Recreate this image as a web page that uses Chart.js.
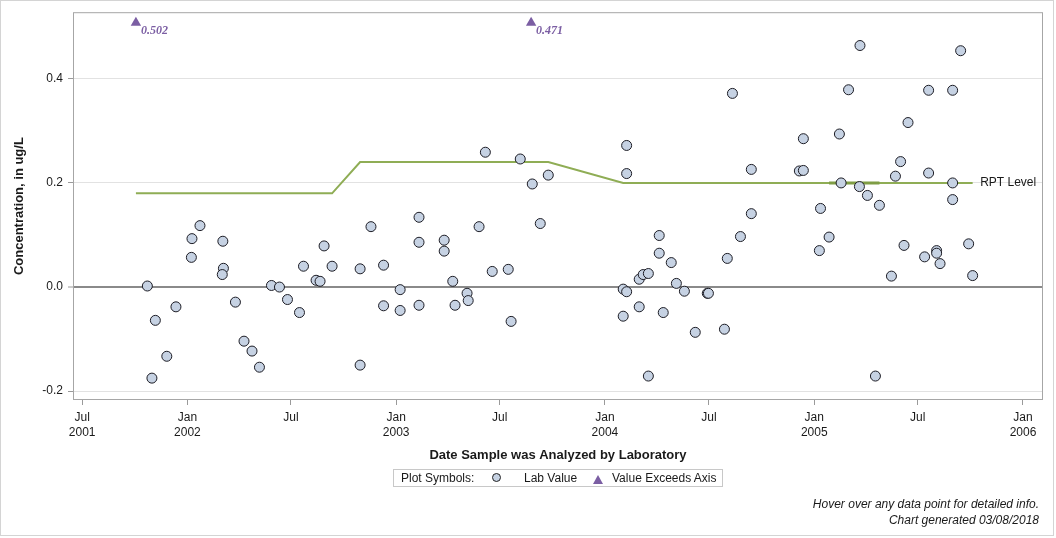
<!DOCTYPE html>
<html lang="en">
<head>
<meta charset="utf-8">
<title>Concentration by date analyzed</title>
<script src="https://cdn.jsdelivr.net/npm/chart.js@4.4.1/dist/chart.umd.min.js"></script>
<style>
  html, body { margin: 0; padding: 0; background: #fff; }
  body { font-family: Arial, "Liberation Sans", sans-serif; color: #1a1a1a; }
  .frame { position: relative; width: 1056px; height: 538px; overflow: hidden; }
  .outline {
    position: absolute; left: 0; top: 0; width: 1054px; height: 536px;
    box-sizing: border-box; border: 1px solid #d4d4d4; pointer-events: none;
  }
  #chart { position: absolute; left: 0; top: 0; }
  .legend {
    position: absolute; left: 393px; top: 469px; width: 330px; height: 18px;
    box-sizing: border-box; border: 1px solid #c8c8c8; font-size: 12px; line-height: 16px;
  }
  .legend .txt { position: absolute; top: 0; white-space: nowrap; }
  .legend .dot {
    position: absolute; left: 98px; top: 3px; width: 9px; height: 9px; box-sizing: border-box;
    border-radius: 50%; background: #c6d2e3; border: 1px solid #222;
  }
  .legend .tri {
    position: absolute; left: 199px; top: 5px; width: 0; height: 0;
    border-left: 5px solid transparent; border-right: 5px solid transparent;
    border-bottom: 9px solid #7b5ea3;
  }
  .footer {
    position: absolute; right: 17px; top: 496px; text-align: right;
    font-size: 12px; line-height: 16px; font-style: italic; white-space: nowrap;
  }
</style>
</head>
<body>
<div class="frame">
  <canvas id="chart" width="1056" height="538"></canvas>
  <div class="legend">
    <span class="txt" style="left:7px">Plot Symbols:</span>
    <span class="dot"></span>
    <span class="txt" style="left:130px">Lab Value</span>
    <span class="tri"></span>
    <span class="txt" style="left:218px">Value Exceeds Axis</span>
  </div>
  <div class="footer">Hover over any data point for detailed info.<br>Chart generated 03/08/2018</div>
  <div class="outline"></div>
</div>
<script>
"use strict";

// lab results (date analyzed, ug/L)
const labDates = [
  "2001-10-23", "2001-10-31", "2001-11-06", "2001-11-26", "2001-12-12",
  "2002-01-08", "2002-01-09", "2002-01-23", "2002-03-04", "2002-03-05",
  "2002-03-03", "2002-03-26", "2002-04-10", "2002-04-24", "2002-05-07",
  "2002-05-28", "2002-06-11", "2002-06-25", "2002-07-16", "2002-07-23",
  "2002-08-14", "2002-08-21", "2002-08-28", "2002-09-11", "2002-10-30",
  "2002-10-30", "2002-11-18", "2002-12-10", "2002-12-10", "2003-01-08",
  "2003-01-08", "2003-02-10", "2003-02-10", "2003-02-10", "2003-03-26",
  "2003-03-26", "2003-04-10", "2003-04-14", "2003-05-05", "2003-05-07",
  "2003-05-26", "2003-06-06", "2003-06-18", "2003-07-16", "2003-07-21",
  "2003-08-06", "2003-08-27", "2003-09-10", "2003-09-24", "2004-02-02",
  "2004-02-08", "2004-02-02", "2004-02-08", "2004-02-08", "2004-03-01",
  "2004-03-01", "2004-03-08", "2004-03-17", "2004-03-17", "2004-04-05",
  "2004-04-05", "2004-04-12", "2004-04-26", "2004-05-05", "2004-05-19",
  "2004-06-07", "2004-06-28", "2004-06-30", "2004-07-28", "2004-08-02",
  "2004-08-11", "2004-08-25", "2004-09-13", "2004-09-13", "2004-12-06",
  "2004-12-13", "2004-12-13", "2005-01-12", "2005-01-10", "2005-01-27",
  "2005-02-14", "2005-02-17", "2005-03-02", "2005-03-21", "2005-03-22",
  "2005-04-04", "2005-04-18", "2005-04-25", "2005-05-16", "2005-05-23",
  "2005-06-01", "2005-06-07", "2005-06-14", "2005-07-13", "2005-07-20",
  "2005-07-20", "2005-08-03", "2005-08-03", "2005-08-09", "2005-08-31",
  "2005-08-31", "2005-08-31", "2005-09-14", "2005-09-28", "2005-10-05"
];
const labValues = [
  0.002, -0.175, -0.064, -0.133, -0.038,
  0.057, 0.093, 0.118, 0.088, 0.036,
  0.024, -0.029, -0.104, -0.123, -0.154,
  0.003, 0.000, -0.024, -0.049, 0.040,
  0.013, 0.011, 0.079, 0.040, 0.035,
  -0.150, 0.116, 0.042, -0.036, -0.005,
  -0.045, 0.134, 0.086, -0.035, 0.090,
  0.069, 0.011, -0.035, -0.012, -0.026,
  0.116, 0.259, 0.030, 0.034, -0.066,
  0.246, 0.198, 0.122, 0.215, -0.004,
  -0.009, -0.056, 0.272, 0.218, -0.038,
  0.015, 0.024, 0.026, -0.171, 0.099,
  0.065, -0.049, 0.047, 0.007, -0.008,
  -0.087, -0.012, -0.012, -0.081, 0.055,
  0.372, 0.097, 0.141, 0.226, 0.223,
  0.224, 0.285, 0.151, 0.070, 0.096,
  0.294, 0.200, 0.379, 0.193, 0.464,
  0.176, -0.171, 0.157, 0.021, 0.213,
  0.241, 0.080, 0.316, 0.058, 0.378,
  0.219, 0.070, 0.065, 0.045, 0.378,
  0.200, 0.168, 0.454, 0.083, 0.022
];

// results above the axis maximum, drawn as triangles at the top
const exceedDates = ["2001-10-03", "2003-08-25"];
const exceedValues = [0.502, 0.471];

// reporting level
const rptDates = ["2001-10-03", "2002-09-11", "2002-10-30", "2003-09-24", "2004-02-02", "2005-10-05"];
const rptValues = [0.18, 0.18, 0.24, 0.24, 0.20, 0.20];
const rptOverlapDates = ["2005-01-27", "2005-04-25"];
const rptOverlapValues = [0.20, 0.20];

const xTickDates = [
  "2001-07-01", "2002-01-01", "2002-07-01", "2003-01-01", "2003-07-01",
  "2004-01-01", "2004-07-01", "2005-01-01", "2005-07-01", "2006-01-01"
];
const xTickLabels = [
  ["Jul", "2001"], ["Jan", "2002"], "Jul", ["Jan", "2003"], "Jul",
  ["Jan", "2004"], "Jul", ["Jan", "2005"], "Jul", ["Jan", "2006"]
];
const yTicks = [-0.2, 0.0, 0.2, 0.4];

const X_MIN = "2001-06-15";
const X_MAX = "2006-02-05";
const Y_MIN = -0.217;
const Y_MAX = 0.528;
const AXIS_CAP = 0.5075;

const FONT = "Arial, 'Liberation Sans', sans-serif";

function toMs(day) {
  return Date.parse(day + "T00:00:00Z");
}

function pairs(dates, values) {
  return dates.map((d, i) => ({ x: toMs(d), y: values[i] }));
}

const overlays = {
  id: "overlays",
  beforeDatasetsDraw(chart) {
    const { ctx, chartArea: a } = chart;
    ctx.save();
    ctx.strokeStyle = "#a6a6a6";
    ctx.lineWidth = 1;
    ctx.strokeRect(a.left + 0.5, a.top + 0.5, a.right - a.left - 1, a.bottom - a.top - 1);
    ctx.restore();
  },
  afterDatasetsDraw(chart) {
    const { ctx } = chart;
    ctx.save();
    ctx.textBaseline = "middle";
    ctx.textAlign = "left";

    ctx.font = "italic bold 12px 'Liberation Serif', 'Times New Roman', serif";
    ctx.fillStyle = "#7b5ea3";
    chart.getDatasetMeta(1).data.forEach((pt, i) => {
      ctx.fillText(exceedValues[i].toFixed(3), pt.x + 5, pt.y + 8);
    });

    const rpt = chart.getDatasetMeta(3).data;
    const last = rpt[rpt.length - 1];
    ctx.font = "12px " + FONT;
    ctx.fillStyle = "#1a1a1a";
    ctx.fillText("RPT Level", last.x + 7.5, last.y);
    ctx.restore();
  }
};

Chart.defaults.font.family = FONT;
Chart.defaults.font.size = 12;
Chart.defaults.color = "#1a1a1a";

new Chart(document.getElementById("chart"), {
  type: "scatter",
  data: {
    datasets: [
      {
        label: "Lab Value",
        data: pairs(labDates, labValues),
        pointRadius: 5,
        pointHoverRadius: 6,
        pointBackgroundColor: "#c6d2e3",
        pointBorderColor: "#1c1c24",
        pointBorderWidth: 1
      },
      {
        label: "Value Exceeds Axis",
        data: exceedDates.map((d) => ({ x: toMs(d), y: AXIS_CAP })),
        pointStyle: "triangle",
        pointRadius: 6,
        pointHoverRadius: 6,
        pointBackgroundColor: "#7b5ea3",
        pointBorderWidth: 0
      },
      {
        label: "RPT overlap",
        data: pairs(rptOverlapDates, rptOverlapValues),
        showLine: true,
        borderColor: "#7f9d45",
        borderWidth: 3,
        pointRadius: 0,
        pointHoverRadius: 0
      },
      {
        label: "RPT Level",
        data: pairs(rptDates, rptValues),
        showLine: true,
        borderColor: "#8fad55",
        borderWidth: 2,
        pointRadius: 0,
        pointHoverRadius: 0
      }
    ]
  },
  options: {
    responsive: false,
    devicePixelRatio: 1,
    animation: false,
    layout: { padding: { left: 0, top: 12, right: 13, bottom: 71 } },
    plugins: {
      legend: { display: false },
      tooltip: { enabled: true }
    },
    scales: {
      x: {
        type: "linear",
        min: toMs(X_MIN),
        max: toMs(X_MAX),
        afterBuildTicks: (scale) => {
          scale.ticks = xTickDates.map((d) => ({ value: toMs(d) }));
        },
        afterFit: (scale) => { scale.height = 67; },
        ticks: {
          autoSkip: false,
          maxRotation: 0,
          padding: 5,
          font: { size: 12, lineHeight: 1.25 },
          callback: (value, index) => xTickLabels[index]
        },
        grid: {
          drawOnChartArea: false,
          tickLength: 5,
          tickColor: "#9a9a9a",
          tickWidth: 1
        },
        border: { display: false },
        title: {
          display: true,
          text: "Date Sample was Analyzed by Laboratory",
          font: { size: 13, weight: "bold" },
          padding: { top: 4, bottom: 4 }
        }
      },
      y: {
        min: Y_MIN,
        max: Y_MAX,
        afterBuildTicks: (scale) => {
          scale.ticks = yTicks.map((v) => ({ value: v }));
        },
        afterFit: (scale) => { scale.width = 73; },
        ticks: {
          padding: 5,
          callback: (value) => value.toFixed(1)
        },
        grid: {
          color: (c) => (c.tick && c.tick.value === 0 ? "#8a8a8a" : "#e2e2e2"),
          lineWidth: (c) => (c.tick && c.tick.value === 0 ? 2 : 1),
          tickLength: 5,
          tickColor: "#9a9a9a",
          tickWidth: 1
        },
        border: { display: false },
        title: {
          display: true,
          text: "Concentration, in ug/L",
          font: { size: 13, weight: "bold" },
          padding: { top: 12, bottom: 0 }
        }
      }
    }
  },
  plugins: [overlays]
});
</script>
</body>
</html>
